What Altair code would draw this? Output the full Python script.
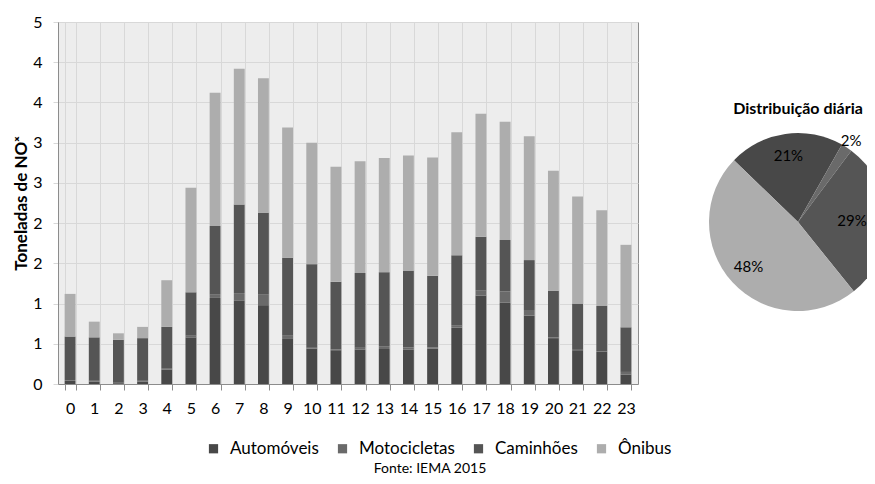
import math
import altair as alt
import pandas as pd

# ---------------- data ----------------
hours = list(range(24))
series = ["Automóveis", "Motocicletas", "Caminhões", "Ônibus"]
automoveis = [0.04, 0.03, 0.01, 0.03, 0.18, 0.58, 1.07, 1.04, 0.98, 0.56, 0.44, 0.42,
              0.43, 0.435, 0.43, 0.44, 0.70, 1.10, 1.01, 0.85, 0.57, 0.42, 0.40, 0.115]
motocicletas = [0.01, 0.01, 0.005, 0.01, 0.01, 0.02, 0.04, 0.09, 0.13, 0.04, 0.01, 0.01,
                0.02, 0.035, 0.025, 0.015, 0.025, 0.06, 0.14, 0.07, 0.01, 0.015, 0.01, 0.035]
caminhoes = [0.54, 0.54, 0.535, 0.53, 0.52, 0.54, 0.855, 1.10, 1.02, 0.97, 1.04, 0.84,
             0.93, 0.92, 0.955, 0.89, 0.875, 0.67, 0.64, 0.62, 0.58, 0.565, 0.56, 0.555]
onibus = [0.53, 0.195, 0.08, 0.14, 0.58, 1.30, 1.655, 1.69, 1.67, 1.62, 1.51, 1.43,
          1.39, 1.42, 1.43, 1.47, 1.53, 1.53, 1.47, 1.54, 1.49, 1.33, 1.19, 1.025]
pie_share = [21, 2, 29, 48]
y_ticks = [0, 0.5, 1, 1.5, 2, 2.5, 3, 3.5, 4, 4.5]
y_title = "Toneladas de NOˣ"
pie_title = "Distribuição diária"
footer = "Fonte: IEMA 2015"

colors = ["#484848", "#6a6a6a", "#555555", "#adadad"]
FONT = "Lato"

# ---------------- tables ----------------
rows = []
for i, h in enumerate(hours):
    for k, (s, vals) in enumerate(zip(series, [automoveis, motocicletas, caminhoes, onibus])):
        rows.append({"hora": h, "serie": s, "valor": vals[i], "ordem": k})
df = pd.DataFrame(rows)

pie_df = pd.DataFrame({
    "serie": series,
    "share": pie_share,
    "ordem": list(range(len(series))),
    "rotulo": [f"{v}%" for v in pie_share],
})

color = alt.Color(
    "serie:N",
    scale=alt.Scale(domain=series, range=colors),
    legend=alt.Legend(
        orient="none", legendX=147, legendY=418, direction="horizontal", title=None,
        symbolType="square", symbolSize=85, symbolStrokeWidth=0,
        labelFont=FONT, labelFontSize=17, labelColor="#000000",
        columnPadding=15, labelOffset=8,
    ),
)

bars = alt.Chart(df).mark_bar().encode(
    x=alt.X(
        "hora:O",
        scale=alt.Scale(paddingInner=0.55, paddingOuter=0.275),
        axis=alt.Axis(
            title=None, labelAngle=0, labelFont=FONT, labelFontSize=16, labelColor="#000000",
            labelPadding=10, tickBand="extent", tickSize=6, tickColor="#8c8c8c",
            domainColor="#8c8c8c", grid=True, gridColor="#d8d8d8",
        ),
    ),
    y=alt.Y(
        "valor:Q",
        stack="zero",
        scale=alt.Scale(domain=[0, 4.5], nice=False, zero=True),
        axis=alt.Axis(
            values=y_ticks, format=".0f", title=y_title,
            titleFont=FONT, titleFontSize=17, titleFontWeight="bold", titleColor="#000000",
            titleX=-37, titleY=181, titleAngle=270, titleAlign="center", titleBaseline="middle",
            labelFont=FONT, labelFontSize=16, labelColor="#000000", labelPadding=11,
            tickSize=5, tickColor="#d8d8d8", domainColor="#8c8c8c",
            grid=True, gridColor="#d8d8d8",
        ),
    ),
    color=color,
    order=alt.Order("ordem:Q", sort="ascending"),
)

start = math.radians(314)
theta = alt.Theta("share:Q", stack=True, scale=alt.Scale(range=[start, start + 2 * math.pi]))
cx, cy = 740, 200


def pie_labels(expr, radius):
    return alt.Chart(pie_df).transform_calculate(t=expr).mark_text(
        radius=radius, font=FONT, fontSize=15, color="#000000"
    ).encode(
        theta=theta, text="t:N", order=alt.Order("ordem:Q", sort="ascending"),
        x=alt.value(cx), y=alt.value(cy),
    )


arcs = alt.Chart(pie_df).mark_arc(radius=89).encode(
    theta=theta, color=color, order=alt.Order("ordem:Q", sort="ascending"),
    x=alt.value(cx), y=alt.value(cy),
)

lab_mid = pie_labels("datum.ordem == 0 || datum.ordem == 3 ? datum.rotulo : ''", 67)
lab_right = pie_labels("datum.ordem == 2 ? datum.rotulo : ''", 54)
lab_out = pie_labels("datum.ordem == 1 ? datum.rotulo : ''", 97)

ptitle = alt.Chart(pd.DataFrame({"t": [pie_title]})).mark_text(
    font=FONT, fontSize=16, fontWeight="bold", color="#000000"
).encode(text="t:N", x=alt.value(740), y=alt.value(87))

foot = alt.Chart(pd.DataFrame({"t": [footer]})).mark_text(
    font=FONT, fontSize=14, color="#000000"
).encode(text="t:N", x=alt.value(372), y=alt.value(447))

chart = alt.layer(bars, arcs, lab_mid, lab_right, lab_out, ptitle, foot).properties(
    width=580, height=362,
    padding={"left": 50, "top": 14, "right": 229, "bottom": 92},
    autosize=alt.AutoSizeParams(type="none"),
).configure_view(fill="#ededed", stroke="#8c8c8c")

chart.save("out.html", embed_options={"renderer": "svg", "actions": False})
